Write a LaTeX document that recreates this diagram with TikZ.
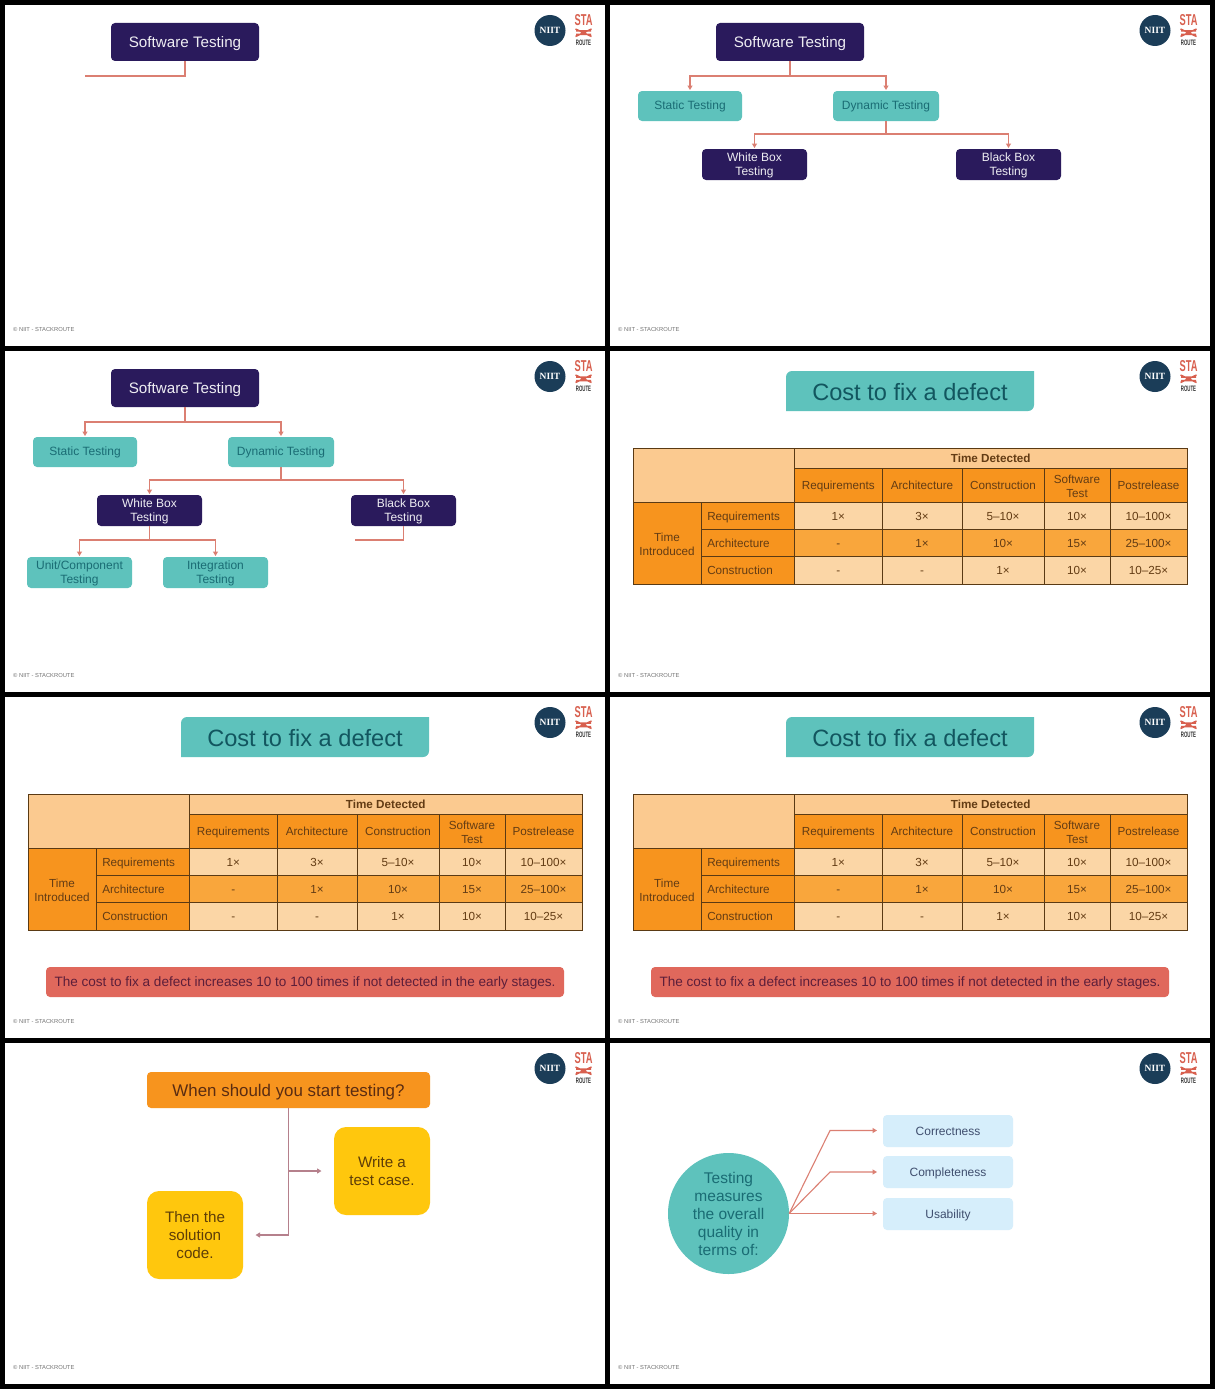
\documentclass[tikz,border=0pt]{standalone}
\usepackage{fontspec}
\setmainfont{Liberation Sans}
\newfontfamily\slabfont{Liberation Serif}
\usetikzlibrary{arrows.meta}
\definecolor{navy}{HTML}{2A1A5C}
\definecolor{teal}{HTML}{5EC2BC}
\definecolor{tealtxt}{HTML}{1A6C74}
\definecolor{titletxt}{HTML}{12565F}
\definecolor{conn}{HTML}{DB7F72}
\definecolor{connb}{HTML}{B5808C}
\definecolor{tlight}{HTML}{FBD6A6}
\definecolor{thead}{HTML}{FBCA90}
\definecolor{tmid}{HTML}{F9A63C}
\definecolor{torange}{HTML}{F7941E}
\definecolor{tline}{HTML}{5A3A14}
\definecolor{ttxt}{HTML}{633C14}
\definecolor{logob}{HTML}{1B3D58}
\definecolor{logor}{HTML}{D8604F}
\definecolor{banner}{HTML}{E0685C}
\definecolor{bannertxt}{HTML}{5C1E3A}
\definecolor{orangetxt}{HTML}{5A2C12}
\definecolor{yellowbox}{HTML}{FFC70D}
\definecolor{yellowtxt}{HTML}{5E3E08}
\definecolor{pale}{HTML}{D6EEFB}
\definecolor{paletxt}{HTML}{3F4E6E}
\tikzset{
  box/.style={rounded corners=4pt,inner sep=0pt,outer sep=0pt,align=center,font=\fontsize{12}{14}\selectfont},
  navybox/.style={box,fill=navy,text=white!92!navy},
  tealbox/.style={box,fill=teal,text=tealtxt},
  linkline/.style={draw=conn,line width=1.1pt},
  linkarrow/.style={linkline,-{Triangle[length=4.5pt,width=5pt]},shorten >=1pt},
  gapline/.style={draw=connb,line width=1.1pt},
  gaparrow/.style={gapline,-{Triangle[length=4.5pt,width=5pt]},shorten >=12.5pt},
  cellst/.style={draw=tline,line width=1pt,inner sep=0pt,outer sep=0pt,align=center,text=ttxt,font=\fontsize{11.7}{14}\selectfont},
  foot/.style={anchor=west,inner sep=0pt,text=black!55,font=\fontsize{5.8}{7}\selectfont},
}
% box from corners: style, name, x1, y1, x2, y2, text
\newcommand{\cornerbox}[7]{%
  \node[#1,minimum width={(#5-#3)*1pt},minimum height={(#6-#4)*1pt},at={({(#3+#5)/2},{(#4+#6)/2})}] (#2) {\rule[-0.21em]{0pt}{1.14em}#7}}
\newcommand{\ccell}[7]{\cornerbox{cellst,fill=#6}{\tp#1}{#2}{#3}{#4}{#5}{#7}}
\newcommand{\lefttext}[2]{\hspace*{6pt}\makebox[#1pt][l]{#2}}
\newcommand{\trow}[9]{%
  \ccell{#1a}{96}{#2}{189.5}{#3}{torange}{\lefttext{87}{#5}};
  \ccell{#1b}{189.5}{#2}{277}{#3}{#4}{#6};
  \ccell{#1c}{277}{#2}{357}{#3}{#4}{#7};
  \ccell{#1d}{357}{#2}{439}{#3}{#4}{#8};
  \ccell{#1e}{439}{#2}{505}{#3}{#4}{#9};
}
\newcommand{\costtable}[1]{%
  \def\tp{#1}%
  \ccell{corner}{28}{102}{189.5}{156.5}{thead}{};
  \ccell{top}{189.5}{102}{582}{122}{thead}{\textbf{Time Detected}};
  \ccell{hone}{189.5}{122}{277}{156.5}{torange}{Requirements};
  \ccell{htwo}{277}{122}{357}{156.5}{torange}{Architecture};
  \ccell{hthree}{357}{122}{439}{156.5}{torange}{Construction};
  \ccell{hfour}{439}{122}{505}{156.5}{torange}{Software\\Test};
  \ccell{hfive}{505}{122}{582}{156.5}{torange}{Postrelease};
  \ccell{ti}{28}{156.5}{96}{238}{torange}{Time\\Introduced};
  \trow{ra}{156.5}{183.5}{tlight}{Requirements}{1×}{3×}{5–10×}{10×}
  \ccell{raf}{505}{156.5}{582}{183.5}{tlight}{10–100×};
  \trow{rb}{183.5}{210.5}{tmid}{Architecture}{-}{1×}{10×}{15×}
  \ccell{rbf}{505}{183.5}{582}{210.5}{tmid}{25–100×};
  \trow{rc}{210.5}{238}{tlight}{Construction}{-}{-}{1×}{10×}
  \ccell{rcf}{505}{210.5}{582}{238}{tlight}{10–25×};
  \fill[teal] (181,65) [rounded corners=6pt] -- (181,25) [sharp corners] -- (429,25) [rounded corners=6pt] -- (429,65) [sharp corners] -- cycle;
  \cornerbox{box,text=titletxt,font=\fontsize{23.6}{28}\selectfont}{\tp title}{181}{26}{429}{66}{Cost to fix a defect};
}
\newcommand{\slideframe}[1]{%
  \fill[white] (5,5) rectangle (605,346);
  \node[foot] (#1foot) at (13,329.5) {© NIIT - STACKROUTE};
  \node[circle,fill=logob,minimum size=31pt,inner sep=0pt,text=white,font=\slabfont\bfseries\fontsize{9.5}{10}\selectfont] (#1logo) at (550,30.5) {NIIT};
  \node[inner sep=0pt,text=logor,font=\bfseries\fontsize{15}{15}\selectfont] (#1sta) at (583.5,20.5) {\scalebox{.62}[1.05]{STA}};
  \draw[logor,line width=1.5pt] (575.5,29) -- (591.5,36.5) (591.5,29) -- (575.5,36.5) (576,31) -- (591,31) (576,34.5) -- (591,34.5);
  \node[inner sep=0pt,text=black!80,font=\bfseries\fontsize{7.5}{8}\selectfont] (#1route) at (583.5,42.5) {\scalebox{.58}[1.05]{ROUTE}};
}
\newcommand{\softbox}[1]{%
  \cornerbox{navybox,font=\fontsize{15.2}{18}\selectfont}{#1soft}{111}{23}{259}{61}{Software Testing};
}
\newcommand{\upperlevels}[1]{%
  \softbox{#1}
  \cornerbox{tealbox}{#1static}{33}{91}{137}{121}{Static Testing\rule[-0.36em]{0pt}{0pt}};
  \cornerbox{tealbox}{#1dyn}{228}{91}{334}{121}{Dynamic Testing\rule[-0.36em]{0pt}{0pt}};
  \cornerbox{navybox}{#1white}{97}{149}{202}{180}{White Box\\Testing};
  \cornerbox{navybox}{#1black}{351}{149}{456}{180}{Black Box\\Testing};
  \coordinate (#1j1) at (185,76);
  \draw[linkline] (#1soft.south) -- (#1j1);
  \draw[linkarrow] (#1j1) -| (#1static.north);
  \draw[linkarrow] (#1j1) -| (#1dyn.north);
  \coordinate (#1j2) at (281,134);
  \draw[linkline] (#1dyn.south) -- (#1j2);
  \draw[linkarrow] (#1j2) -| (#1white.north);
  \draw[linkarrow] (#1j2) -| (#1black.north);
}
\begin{document}
\begin{tikzpicture}[x=1pt,y=-1pt]
\useasboundingbox (0,0) rectangle (1215,1389);
\fill[black] (0,0) rectangle (1215,1389);
% slide 1
\begin{scope}[shift={(0,0)}]
  \slideframe{a}
  \softbox{a}
  \coordinate (aj) at (185,76);
  \coordinate (aend) at (85,76);
  \draw[linkline] (asoft.south) -- (aj) -- (aend);
\end{scope}
% slide 2
\begin{scope}[shift={(605,0)}]
  \slideframe{b}
  \upperlevels{b}
\end{scope}
% slide 3
\begin{scope}[shift={(0,346)}]
  \slideframe{c}
  \upperlevels{c}
  \cornerbox{tealbox}{cunit}{27}{211}{132}{242}{Unit/Component\\Testing};
  \cornerbox{tealbox}{cint}{163}{211}{268}{242}{Integration\\Testing};
  \coordinate (cj3) at (149.5,194);
  \draw[linkline] (cwhite.south) -- (cj3);
  \draw[linkarrow] (cj3) -| (cunit.north);
  \draw[linkarrow] (cj3) -| (cint.north);
  \coordinate (cj4) at (403.5,194);
  \coordinate (cstub) at (355,194);
  \draw[linkline] (cblack.south) -- (cj4) -- (cstub);
\end{scope}
% slide 4
\begin{scope}[shift={(605,346)}]
  \slideframe{d}
  \costtable{d}
\end{scope}
% slide 5
\begin{scope}[shift={(0,692)}]
  \slideframe{e}
  \costtable{e}
  \cornerbox{box,fill=banner,text=bannertxt,font=\fontsize{13.55}{17}\selectfont}{ebanner}{46}{275}{564}{305}{The cost to fix a defect increases 10 to 100 times if not detected in the early stages.};
\end{scope}
% slide 6
\begin{scope}[shift={(605,692)}]
  \slideframe{f}
  \costtable{f}
  \cornerbox{box,fill=banner,text=bannertxt,font=\fontsize{13.55}{17}\selectfont}{fbanner}{46}{275}{564}{305}{The cost to fix a defect increases 10 to 100 times if not detected in the early stages.};
\end{scope}
% slide 7
\begin{scope}[shift={(0,1038)}]
  \slideframe{g}
  \cornerbox{box,fill=torange,text=orangetxt,font=\fontsize{16.9}{20}\selectfont}{gq}{147}{34}{430}{70}{When should you start testing?};
  \cornerbox{box,rounded corners=12pt,fill=yellowbox,text=yellowtxt,font=\fontsize{15.2}{18}\selectfont}{gw}{334}{89}{430}{177}{Write a\\test case.\rule[-4pt]{0pt}{0pt}};
  \cornerbox{box,rounded corners=12pt,fill=yellowbox,text=yellowtxt,font=\fontsize{15.2}{18}\selectfont}{gt}{147}{153}{243}{241}{Then the\\solution\\code.\rule[-3.5pt]{0pt}{0pt}};
  \coordinate (gtop) at (288.5,70);
  \coordinate (gmid) at (288.5,133);
  \coordinate (gbot) at (288.5,197);
  \draw[gapline] (gtop) -- (gbot);
  \draw[gaparrow] (gmid) -- (gw.west);
  \draw[gaparrow] (gbot) -- (gt.east);
\end{scope}
% slide 8
\begin{scope}[shift={(605,1038)}]
  \slideframe{h}
  \node[circle,fill=teal,minimum size=121pt,inner sep=0pt,align=center,text=tealtxt,font=\fontsize{15.5}{18}\selectfont] (hc) at (123.5,175.5) {Testing\\measures\\the overall\\quality in\\terms of:};
  \cornerbox{box,fill=pale,text=paletxt}{hcor}{278}{77}{408}{109}{Correctness};
  \cornerbox{box,fill=pale,text=paletxt}{hcom}{278}{118}{408}{150}{Completeness};
  \cornerbox{box,fill=pale,text=paletxt}{husa}{278}{160}{408}{192}{Usability};
  \coordinate (hb1) at (225,92.5);
  \coordinate (hb2) at (225,134);
  \coordinate (ha1) at (273,92.5);
  \coordinate (ha2) at (273,134);
  \coordinate (ha3) at (273,175.5);
  \draw[linkarrow] (hc.east) -- (hb1) -- (ha1);
  \draw[linkarrow] (hc.east) -- (hb2) -- (ha2);
  \draw[linkarrow] (hc.east) -- (ha3);
\end{scope}
\end{tikzpicture}
\end{document}
